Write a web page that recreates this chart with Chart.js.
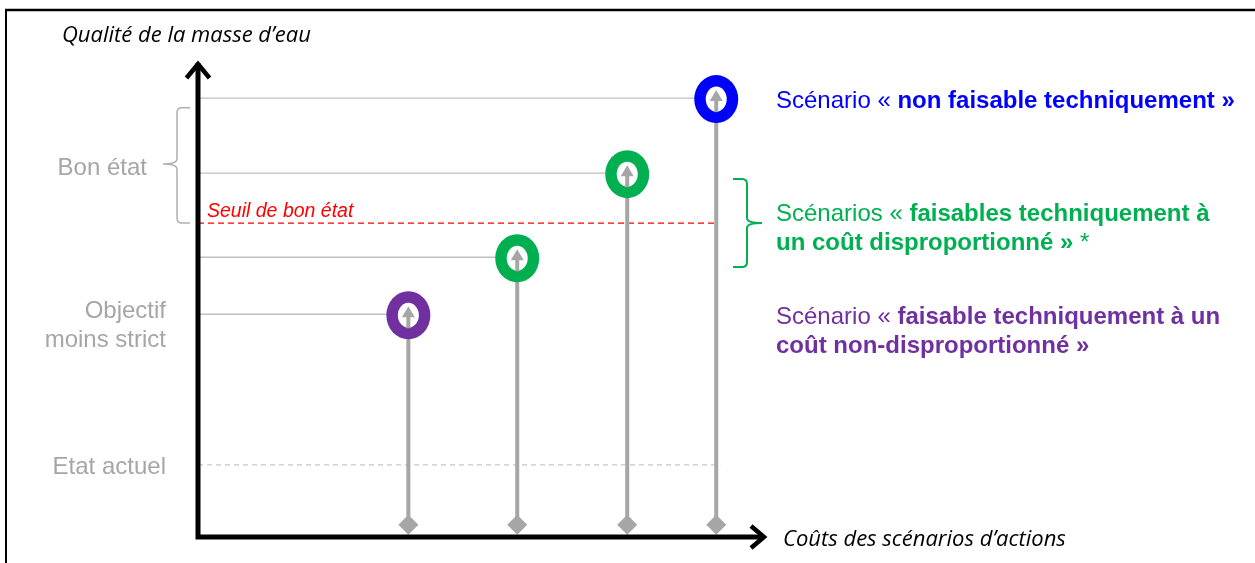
<!DOCTYPE html>
<html lang="fr">
<head>
<meta charset="utf-8">
<title>Qualité de la masse d'eau et coûts des scénarios</title>
<script src="https://cdn.jsdelivr.net/npm/chart.js@4/dist/chart.umd.min.js"></script>
<style>
  html, body { margin: 0; padding: 0; background: #ffffff; }
  #wrap { position: relative; width: 1255px; height: 563px; }
</style>
</head>
<body>
<div id="wrap"><canvas id="chart"></canvas></div>
<script>
// Scénarios d'actions : coût (axe horizontal) et qualité atteinte (axe vertical), en unités relatives 0–100
const scenarioNames = ['faisable à coût non-disproportionné', 'faisable à coût disproportionné (1)', 'faisable à coût disproportionné (2)', 'non faisable techniquement'];
const scenarioCost = [37.1, 56.3, 75.7, 91.4];
const scenarioQuality = [46.9, 58.9, 76.6, 92.4];
const baseQuality = 2.6;               // départ des flèches (sur l'axe des coûts)
const seuilBonEtat = 66.1;             // seuil de bon état
const etatActuel = 15.2;               // état actuel
const bonEtatRange = [66.1, 91.4];     // plage « Bon état »
const seuilEnd = 91.4;
const etatEnd = 92.1;

const axisTitles = { y: 'Qualité de la masse d\u2019eau', x: 'Coûts des scénarios d\u2019actions' };
const levelLabels = { bon: 'Bon état', objectif: ['Objectif', 'moins strict'], actuel: 'Etat actuel', seuil: 'Seuil de bon état' };
const legendLines = {
  blue: [[['Scénario « ', false], ['non faisable techniquement »', true]]],
  green: [[['Scénarios « ', false], ['faisables techniquement à', true]],
          [['un coût disproportionné »', true], [' *', false]]],
  purple: [[['Scénario « ', false], ['faisable techniquement à un', true]],
           [['coût non-disproportionné »', true]]]
};

const COLORS = { purple: '#7030a0', green: '#00b050', blue: '#0000ff', stem: '#a6a6a6', level: '#bfbfbf', text: '#a6a6a6', red: '#ff0000' };
const scenarioColors = [COLORS.purple, COLORS.green, COLORS.green, COLORS.blue];
const ARIAL = '"Liberation Sans", Arial, sans-serif';
const TITLE_FONT = '"Open Sans", Lato, sans-serif';

const datasets = [];
// cercles des scénarios (dessinés par le plugin)
datasets.push({
  label: 'scenarios', data: scenarioCost.map((x, i) => ({ x, y: scenarioQuality[i] })),
  pointRadius: 0, showLine: false, order: 0
});
// niveaux de qualité atteints (traits horizontaux depuis l'axe)
scenarioCost.forEach((x, i) => {
  datasets.push({
    label: 'niveau ' + scenarioNames[i], data: [{ x: 0, y: scenarioQuality[i] }, { x, y: scenarioQuality[i] }],
    showLine: true, borderColor: COLORS.level, borderWidth: 1.4, pointRadius: 0, order: 3
  });
});
// seuil de bon état
datasets.push({
  label: levelLabels.seuil, data: [{ x: 0, y: seuilBonEtat }, { x: seuilEnd, y: seuilBonEtat }],
  showLine: true, borderColor: COLORS.red, borderWidth: 1.2, borderDash: [6, 4], pointRadius: 0, order: 2
});
// état actuel
datasets.push({
  label: levelLabels.actuel, data: [{ x: 0, y: etatActuel }, { x: etatEnd, y: etatActuel }],
  showLine: true, borderColor: '#c8c8c8', borderWidth: 1.2, borderDash: [5, 4], pointRadius: 0, order: 2
});
// flèches verticales partant d'un losange sur l'axe des coûts
scenarioCost.forEach((x, i) => {
  datasets.push({
    label: 'flèche ' + scenarioNames[i], data: [{ x, y: baseQuality }, { x, y: scenarioQuality[i] }],
    showLine: true, borderColor: COLORS.stem, borderWidth: 4,
    pointStyle: 'rectRot', pointRadius: [10, 0], pointBackgroundColor: COLORS.stem, pointBorderWidth: 0,
    order: 1
  });
});

function drawRich(ctx, segments, x, y, color) {
  let cx = x;
  ctx.fillStyle = color;
  ctx.textAlign = 'left';
  ctx.textBaseline = 'alphabetic';
  segments.forEach(([txt, bold]) => {
    ctx.font = (bold ? 'bold ' : '') + '24px ' + ARIAL;
    ctx.fillText(txt, cx, y);
    cx += ctx.measureText(txt).width;
  });
}

// titre d'axe en italique, taille ajustée à la largeur voulue
function drawFittedItalic(ctx, txt, x, y, width) {
  ctx.font = 'italic 20px ' + TITLE_FONT;
  const size = Math.min(22, 20 * width / ctx.measureText(txt).width);
  ctx.font = 'italic ' + size.toFixed(2) + 'px ' + TITLE_FONT;
  ctx.fillText(txt, x, y);
}

function drawBrace(ctx, xOuter, xInner, xTip, yTop, yMid, yBot) {
  // accolade : extrémités en xOuter, dos en xInner, pointe en xTip
  const r = 5;
  const s = Math.sign(xOuter - xInner);
  ctx.beginPath();
  ctx.moveTo(xOuter, yTop);
  ctx.lineTo(xInner + s * r, yTop);
  ctx.quadraticCurveTo(xInner, yTop, xInner, yTop + r);
  ctx.lineTo(xInner, yMid - r);
  ctx.quadraticCurveTo(xInner, yMid, xTip, yMid);
  ctx.moveTo(xTip, yMid);
  ctx.quadraticCurveTo(xInner, yMid, xInner, yMid + r);
  ctx.lineTo(xInner, yBot - r);
  ctx.quadraticCurveTo(xInner, yBot, xInner + s * r, yBot);
  ctx.lineTo(xOuter, yBot);
  ctx.stroke();
}

const diagramPlugin = {
  id: 'diagram',
  afterDatasetsDraw(chart) {
    const { ctx, chartArea: a, scales } = chart;
    const ys = scales.y;
    ctx.save();

    // axes avec flèches
    ctx.strokeStyle = '#000';
    ctx.lineWidth = 5;
    ctx.lineCap = 'butt';
    ctx.beginPath();
    ctx.moveTo(a.left, a.bottom + 2.5);
    ctx.lineTo(a.left, a.top + 1);
    ctx.moveTo(a.left - 2.5, a.bottom);
    ctx.lineTo(a.right - 1, a.bottom);
    ctx.stroke();
    ctx.lineWidth = 4.5;
    ctx.lineJoin = 'miter';
    ctx.beginPath();
    ctx.moveTo(a.left - 11.5, a.top + 16);
    ctx.lineTo(a.left, a.top + 2);
    ctx.lineTo(a.left + 11.5, a.top + 16);
    ctx.moveTo(a.right - 14, a.bottom - 11);
    ctx.lineTo(a.right - 1, a.bottom);
    ctx.lineTo(a.right - 14, a.bottom + 11);
    ctx.stroke();

    // cercles des scénarios avec pointe de flèche
    const meta = chart.getDatasetMeta(0);
    meta.data.forEach((pt, i) => {
      const cx = pt.x, cy = pt.y + 1;
      ctx.fillStyle = scenarioColors[i];
      ctx.beginPath();
      ctx.ellipse(cx, cy, 22, 24, 0, 0, Math.PI * 2);
      ctx.fill();
      ctx.fillStyle = '#ffffff';
      ctx.beginPath();
      ctx.ellipse(cx, cy, 10.5, 12.5, 0, 0, Math.PI * 2);
      ctx.fill();
      ctx.fillStyle = COLORS.stem;
      ctx.fillRect(cx - 2, cy, 4, 13);
      ctx.beginPath();
      ctx.moveTo(cx, cy - 9);
      ctx.lineTo(cx + 6.5, cy + 2);
      ctx.lineTo(cx - 6.5, cy + 2);
      ctx.closePath();
      ctx.fill();
    });

    // titres des axes
    ctx.fillStyle = '#000';
    ctx.textAlign = 'left';
    ctx.textBaseline = 'middle';
    drawFittedItalic(ctx, axisTitles.y, 62, 36, 250);
    drawFittedItalic(ctx, axisTitles.x, 783, a.bottom + 3, 283);

    // libellés des niveaux
    ctx.fillStyle = COLORS.text;
    ctx.font = '24px ' + ARIAL;
    ctx.textAlign = 'right';
    ctx.textBaseline = 'alphabetic';
    const yBonTop = ys.getPixelForValue(bonEtatRange[1]);
    const yBonBot = ys.getPixelForValue(bonEtatRange[0]);
    const yBonMid = (yBonTop + yBonBot) / 2 + 4;
    ctx.fillText(levelLabels.bon, a.left - 51, yBonMid + 8.5);
    const yObj = ys.getPixelForValue(scenarioQuality[0]);
    ctx.fillText(levelLabels.objectif[0], a.left - 32, yObj - 5 + 8.5);
    ctx.fillText(levelLabels.objectif[1], a.left - 32, yObj + 24 + 8.5);
    ctx.fillText(levelLabels.actuel, a.left - 32, ys.getPixelForValue(etatActuel) + 1 + 8.5);

    // accolade « Bon état »
    ctx.strokeStyle = '#b0b0b0';
    ctx.lineWidth = 1.5;
    drawBrace(ctx, a.left - 8, a.left - 21, a.left - 35, yBonTop + 5, yBonMid - 3, yBonBot);

    // seuil de bon état
    const ySeuil = ys.getPixelForValue(seuilBonEtat);
    ctx.fillStyle = COLORS.red;
    ctx.font = 'italic 19.5px ' + ARIAL;
    ctx.textAlign = 'left';
    ctx.fillText(levelLabels.seuil, a.left + 9, ySeuil - 6);

    // légende des scénarios
    const lx = 776;
    const yBlue = ys.getPixelForValue(scenarioQuality[3]);
    drawRich(ctx, legendLines.blue[0], lx, yBlue + 1 + 8.5, COLORS.blue);
    drawRich(ctx, legendLines.green[0], lx, ySeuil - 11 + 8.5, COLORS.green);
    drawRich(ctx, legendLines.green[1], lx, ySeuil + 18 + 8.5, COLORS.green);
    drawRich(ctx, legendLines.purple[0], lx, yObj + 1 + 8.5, COLORS.purple);
    drawRich(ctx, legendLines.purple[1], lx, yObj + 30 + 8.5, COLORS.purple);

    // accolade des scénarios à coût disproportionné
    ctx.strokeStyle = COLORS.green;
    ctx.lineWidth = 2;
    drawBrace(ctx, a.right - 32, a.right - 18, a.right - 3, ySeuil - 44, ySeuil, ySeuil + 44);

    // cadre
    ctx.strokeStyle = '#000';
    ctx.lineWidth = 2.5;
    ctx.beginPath();
    ctx.moveTo(5, 10);
    ctx.lineTo(1255, 10);
    ctx.stroke();
    ctx.lineWidth = 2;
    ctx.beginPath();
    ctx.moveTo(6, 9);
    ctx.lineTo(6, 563);
    ctx.stroke();

    ctx.restore();
  }
};

new Chart(document.getElementById('chart'), {
  type: 'scatter',
  data: { datasets },
  options: {
    responsive: true,
    maintainAspectRatio: false,
    animation: false,
    clip: false,
    layout: { padding: { left: 198, right: 490, top: 62, bottom: 26 } },
    scales: {
      x: { type: 'linear', min: 0, max: 100, display: false },
      y: { type: 'linear', min: 0, max: 100, display: false }
    },
    plugins: { legend: { display: false }, tooltip: { enabled: false } },
    elements: { line: { tension: 0 } }
  },
  plugins: [diagramPlugin]
});
</script>
</body>
</html>
